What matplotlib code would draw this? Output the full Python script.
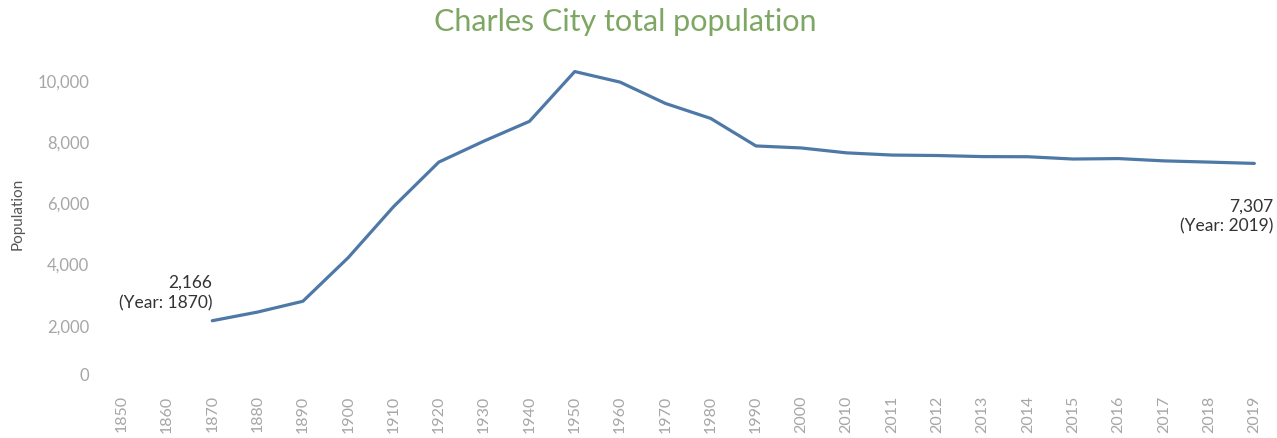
import numpy as np
import matplotlib
matplotlib.use("Agg")
import matplotlib.pyplot as plt
from matplotlib.transforms import ScaledTranslation

# ─────────────────────────────────────────────────────────────
#  Data
# ─────────────────────────────────────────────────────────────
years = ["1850", "1860", "1870", "1880", "1890", "1900", "1910", "1920",
         "1930", "1940", "1950", "1960", "1970", "1980", "1990", "2000",
         "2010", "2011", "2012", "2013", "2014", "2015", "2016", "2017",
         "2018", "2019"]
population = [np.nan, np.nan, 2166, 2449, 2802, 4227, 5892, 7350,
              8039, 8681, 10309, 9964, 9268, 8778, 7878, 7812,
              7652, 7580, 7565, 7530, 7525, 7450, 7465, 7390,
              7350, 7307]
y_ticks = [0, 2000, 4000, 6000, 8000, 10000]

LINE = "#4e79a7"
TICK = "#a6a6a6"
FONT = ["Lato", "DejaVu Sans"]

plt.rcParams["font.family"] = FONT

fig = plt.figure(figsize=(12.77, 4.38), dpi=100)
ax = fig.add_axes([99 / 1277, 1 - 387 / 438, 1 - 99 / 1277, (387 - 55) / 438])

x = np.arange(len(years))
ax.plot(x, population, color=LINE, lw=2.3, solid_capstyle="round",
        solid_joinstyle="round", clip_on=False)

ax.set_xlim(-0.5, len(years) - 0.5)
ax.set_ylim(0, 10850)
ax.set_xticks(x)
ax.set_xticklabels(years, rotation=90, fontsize=11.5, color=TICK)
ax.set_yticks(y_ticks)
ax.set_yticklabels([f"{v:,}" for v in y_ticks], fontsize=12, color=TICK)
ax.tick_params(length=0)
ax.tick_params(axis="x", pad=6)
ax.tick_params(axis="y", pad=7)
for s in ax.spines.values():
    s.set_visible(False)

# nudge the "0" label up like the original
zero = ax.get_yticklabels()[0]
zero.set_transform(zero.get_transform() + ScaledTranslation(0, 9 / 72, fig.dpi_scale_trans))

ax.set_ylabel("Population", fontsize=11, color="#555555")
ax.yaxis.set_label_coords(-0.063, 0.52)

# ─────────────────────────────────────────────────────────────
#  Annotations
# ─────────────────────────────────────────────────────────────
i0 = 2
ax.annotate(f"{population[i0]:,}\n(Year: {years[i0]})", xy=(x[i0], population[i0]),
            xytext=(0, 7), textcoords="offset points", ha="right", va="bottom",
            fontsize=12.5, color="#333333", linespacing=1.35, annotation_clip=False)
i1 = len(years) - 1
ax.annotate(f"{population[i1]:,}\n(Year: {years[i1]})", xy=(x[i1], population[i1]),
            xytext=(14, -25), textcoords="offset points", ha="right", va="top",
            fontsize=12.5, color="#333333", linespacing=1.35, annotation_clip=False)

fig.text(0.49, 0.95, "Charles City total population", ha="center", va="center",
         fontsize=22, color="#7ea763")

fig.savefig("out.png", dpi=100)
